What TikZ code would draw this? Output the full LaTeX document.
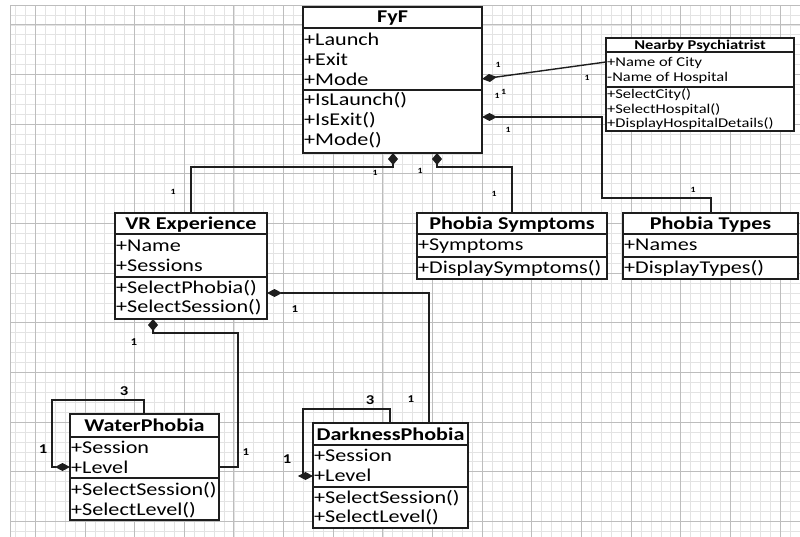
\documentclass[tikz,border=0pt]{standalone}
\usepackage{fontspec}
\setmainfont{Carlito}[FakeStretch=1.23]
\usetikzlibrary{arrows.meta}
\definecolor{linec}{HTML}{1E1E1E}
\begin{document}
\begin{tikzpicture}[x=1pt,y=-1pt,
  gmin/.style={draw=black!11,line width=0.8pt},
  gmaj/.style={draw=black!26,line width=1pt},
  umlbox/.style={draw=linec,line width=1.4pt,fill=white,inner sep=0pt,outer sep=0pt,anchor=north west},
  ttl/.style={font=\fontsize{18}{20}\selectfont\bfseries,inner sep=0pt,anchor=base},
  row/.style={font=\fontsize{18}{20}\selectfont,inner sep=0pt,anchor=base west},
  sttl/.style={font=\fontsize{13.4}{15}\selectfont\bfseries,inner sep=0pt,anchor=base},
  srow/.style={font=\fontsize{13.4}{15}\selectfont,inner sep=0pt,anchor=base west},
  divl/.style={draw=linec,line width=1.4pt},
  conn/.style={draw=linec,line width=1.4pt},
  comph/.style={conn,{Diamond[length=15pt,width=8pt]}-},
  compv/.style={conn,{Diamond[length=12pt,width=10pt]}-},
  compe/.style={conn,-{Diamond[length=15pt,width=8pt]}},
  msm/.style={font=\fontsize{8}{9}\selectfont\bfseries,inner sep=0pt},
  mmd/.style={font=\fontsize{10.5}{11}\selectfont\bfseries,inner sep=0pt},
  mlg/.style={font=\fontsize{13.5}{14}\selectfont\bfseries,inner sep=0pt}]
\useasboundingbox (0,0) rectangle (800,537);
\fill[white] (0,0) rectangle (800,537);
% grid
\foreach \i in {0,...,79} \draw[gmin] ({15.5+9.93*\i},6) -- ({15.5+9.93*\i},537);
\foreach \j in {0,...,52} \draw[gmin] (10,{15+9.93*\j}) -- (800,{15+9.93*\j});
\foreach \i in {0,...,15} \draw[gmaj] ({35.36+49.65*\i},6) -- ({35.36+49.65*\i},537);
\foreach \j in {0,...,10} \draw[gmaj] (10,{24.93+49.65*\j}) -- (800,{24.93+49.65*\j});
\draw[draw=black!26,line width=1pt] (10,537) -- (10,6) -- (800,6);

% ---------- FyF
\node[umlbox,minimum width=179pt,minimum height=146pt] (fyf) at (303,7) {};
\draw[divl] (303,28) -- (482,28);
\draw[divl] (303,90) -- (482,90);
\node[ttl] (fyft) at (392.5,23) {FyF};
\node[row] (fyfa1) at (304,46) {+Launch};
\node[row] (fyfa2) at (304,65.5) {+Exit};
\node[row] (fyfa3) at (304,85.5) {+Mode};
\node[row] (fyfm1) at (304,106) {+IsLaunch()};
\node[row] (fyfm2) at (304,126) {+IsExit()};
\node[row] (fyfm3) at (304,146) {+Mode()};

% ---------- Nearby Psychiatrist
\node[umlbox,minimum width=188pt,minimum height=93pt] (np) at (606,38) {};
\draw[divl] (606,52) -- (794,52);
\draw[divl] (606,87) -- (794,87);
\node[sttl] (npt) at (700,50) {Nearby Psychiatrist};
\node[srow] (npa1) at (607,67) {+Name of City};
\node[srow] (npa2) at (607,82) {-Name of Hospital};
\node[srow] (npm1) at (607,99) {+SelectCity()};
\node[srow] (npm2) at (607,114) {+SelectHospital()};
\node[srow] (npm3) at (607,128) {+DisplayHospitalDetails()};

% ---------- VR Experience
\node[umlbox,minimum width=152pt,minimum height=106pt] (vr) at (115,213) {};
\draw[divl] (115,234) -- (267,234);
\draw[divl] (115,277) -- (267,277);
\node[ttl] (vrt) at (191,230) {VR Experience};
\node[row] (vra1) at (116,251.5) {+Name};
\node[row] (vra2) at (116,271.5) {+Sessions};
\node[row] (vrm1) at (116,293) {+SelectPhobia()};
\node[row] (vrm2) at (116,312) {+SelectSession()};

% ---------- Phobia Symptoms
\node[umlbox,minimum width=190pt,minimum height=66pt] (ps) at (417,213) {};
\draw[divl] (417,234) -- (607,234);
\draw[divl] (417,257) -- (607,257);
\node[ttl] (pst) at (512,229.5) {Phobia Symptoms};
\node[row] (psa1) at (418,251) {+Symptoms};
\node[row] (psm1) at (418,273) {+DisplaySymptoms()};

% ---------- Phobia Types
\node[umlbox,minimum width=175pt,minimum height=66pt] (pt) at (623,213) {};
\draw[divl] (623,234) -- (798,234);
\draw[divl] (623,257) -- (798,257);
\node[ttl] (ptt) at (710.5,229.5) {Phobia Types};
\node[row] (pta1) at (624,251) {+Names};
\node[row] (ptm1) at (624,273) {+DisplayTypes()};

% ---------- WaterPhobia
\node[umlbox,minimum width=149pt,minimum height=106pt] (wp) at (70,414) {};
\draw[divl] (70,437) -- (219,437);
\draw[divl] (70,478) -- (219,478);
\node[ttl] (wpt) at (144.5,431.5) {WaterPhobia};
\node[row] (wpa1) at (71,453) {+Session};
\node[row] (wpa2) at (71,473) {+Level};
\node[row] (wpm1) at (71,495) {+SelectSession()};
\node[row] (wpm2) at (71,515) {+SelectLevel()};

% ---------- DarknessPhobia
\node[umlbox,minimum width=155pt,minimum height=105pt] (dp) at (313,423) {};
\draw[divl] (313,445) -- (468,445);
\draw[divl] (313,487) -- (468,487);
\node[ttl] (dpt) at (390.5,440) {DarknessPhobia};
\node[row] (dpa1) at (314,461.5) {+Session};
\node[row] (dpa2) at (314,481.5) {+Level};
\node[row] (dpm1) at (314,503) {+SelectSession()};
\node[row] (dpm2) at (314,522) {+SelectLevel()};

% ---------- connection points
\coordinate (fyfR1) at (482,79);
\coordinate (fyfR2) at (482,117);
\coordinate (fyfB1) at (393,153);
\coordinate (fyfB2) at (437,153);
\coordinate (npL) at (606,62);
\coordinate (bPT) at (602,198);
\coordinate (ptT) at (711,213);
\coordinate (bVR) at (191,167);
\coordinate (vrT) at (191,213);
\coordinate (bPS) at (512,167);
\coordinate (psT) at (512,213);
\coordinate (vrR) at (267,293);
\coordinate (vrB) at (153,319);
\coordinate (dpT) at (429,423);
\coordinate (bWP) at (238,333);
\coordinate (wpR) at (219,467);
\coordinate (wpT) at (144,414);
\coordinate (bW2) at (52,400);
\coordinate (wpL) at (70,467);
\coordinate (dpT2) at (390,423);
\coordinate (bD2) at (303,409);
\coordinate (dpL) at (313,476);

% ---------- connectors
\draw[comph] (fyfR1) -- (npL);
\draw[comph] (fyfR2) -| (bPT) -| (ptT);
\draw[compv] (fyfB1) |- (bVR) -- (vrT);
\draw[compv] (fyfB2) |- (bPS) -- (psT);
\draw[comph] (vrR) -| (dpT);
\draw[compv] (vrB) |- (bWP) |- (wpR);
\draw[compe] (wpT) |- (bW2) |- (wpL);
\draw[compe] (dpT2) |- (bD2) |- (dpL);

% ---------- multiplicities
\node[msm] (m1) at (498,65) {1};
\node[msm] (m2) at (587,78) {1};
\node[msm] (m3) at (497,95.5) {1};
\node[msm] (m4) at (503.5,92) {1};
\node[msm] (m5) at (508,130) {1};
\node[msm] (m6) at (693,190) {1};
\node[msm] (m7) at (375,173) {1};
\node[msm] (m8) at (420,171) {1};
\node[msm] (m9) at (494,194) {1};
\node[msm] (m10) at (173,192) {1};
\node[mmd] (m11) at (295,309) {1};
\node[mmd] (m12) at (411,399) {1};
\node[mmd] (m13) at (134,342) {1};
\node[mmd] (m14) at (246,452) {1};
\node[mlg] (m15) at (124,391) {3};
\node[mlg] (m16) at (43,449) {1};
\node[mlg] (m17) at (370,400) {3};
\node[mlg] (m18) at (287,459) {1};
\end{tikzpicture}
\end{document}
